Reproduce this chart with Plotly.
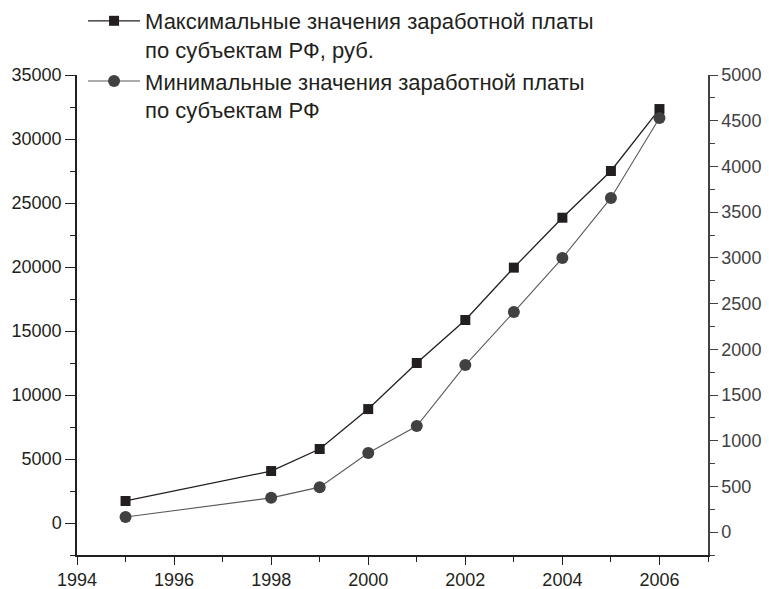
import plotly.graph_objects as go

# Годы наблюдений
years = [1995, 1998, 1999, 2000, 2001, 2002, 2003, 2004, 2005, 2006]

# Максимальные значения заработной платы по субъектам РФ, руб. (левая ось)
max_wage = [1720, 4060, 5780, 8900, 12500, 15860, 19950, 23850, 27500, 32340]

# Минимальные значения заработной платы по субъектам РФ (правая ось)
min_wage = [165, 375, 492, 866, 1160, 1827, 2407, 2998, 3655, 4530]

name_max = "Максимальные значения заработной платы<br>по субъектам РФ, руб."
name_min = "Минимальные значения заработной платы<br>по субъектам РФ"

ink = "#231f20"
gray = "#414042"
font = "Liberation Sans, Arial, sans-serif"

fig = go.Figure()
fig.add_trace(go.Scatter(
    x=years, y=max_wage, name=name_max, mode="lines+markers",
    line=dict(color=ink, width=1.3),
    marker=dict(symbol="square", size=10, color=ink),
    yaxis="y",
))
fig.add_trace(go.Scatter(
    x=years, y=min_wage, name=name_min, mode="lines+markers",
    line=dict(color="#5a5a5c", width=1.1),
    marker=dict(symbol="circle", size=12, color=gray),
    yaxis="y2",
))

fig.update_layout(
    width=769, height=589,
    margin=dict(l=77, r=61, t=75, b=34, autoexpand=False),
    paper_bgcolor="white", plot_bgcolor="white",
    font=dict(family=font, size=18, color=ink),
    showlegend=True,
    legend=dict(
        xref="container", yref="container",
        x=0.108, y=1.0, xanchor="left", yanchor="top",
        font=dict(size=22, color=ink),
        valign="top", bgcolor="rgba(0,0,0,0)",
        itemwidth=52, tracegroupgap=0,
    ),
    xaxis=dict(
        range=[1994, 2007], tick0=1994, dtick=2, tickformat="d",
        showgrid=False, zeroline=False,
        showline=True, linecolor=ink, linewidth=1.5,
        ticks="outside", ticklen=8, tickwidth=1.3, tickcolor=ink,
        minor=dict(ticks="outside", ticklen=5, dtick=1, tick0=1995,
                   tickcolor=ink, tickwidth=1.3, showgrid=False),
    ),
    yaxis=dict(
        range=[-2500, 35000], tick0=0, dtick=5000, tickformat="d",
        showgrid=False, zeroline=False,
        showline=True, linecolor=ink, linewidth=1.5,
        ticks="outside", ticklen=10, tickwidth=1.3, tickcolor=ink,
        minor=dict(ticks="outside", ticklen=5, dtick=2500,
                   tickcolor=ink, tickwidth=1.3, showgrid=False),
    ),
    yaxis2=dict(
        range=[-250, 5000], tick0=0, dtick=500, tickformat="d",
        overlaying="y", side="right", anchor="x",
        showgrid=False, zeroline=False,
        showline=True, linecolor=gray, linewidth=1.5,
        ticks="outside", ticklen=8, tickwidth=1.3, tickcolor=gray,
        tickfont=dict(color=gray),
        minor=dict(ticks="outside", ticklen=5, dtick=250,
                   tickcolor=gray, tickwidth=1.3, showgrid=False),
    ),
)

fig.write_html("out.html")
